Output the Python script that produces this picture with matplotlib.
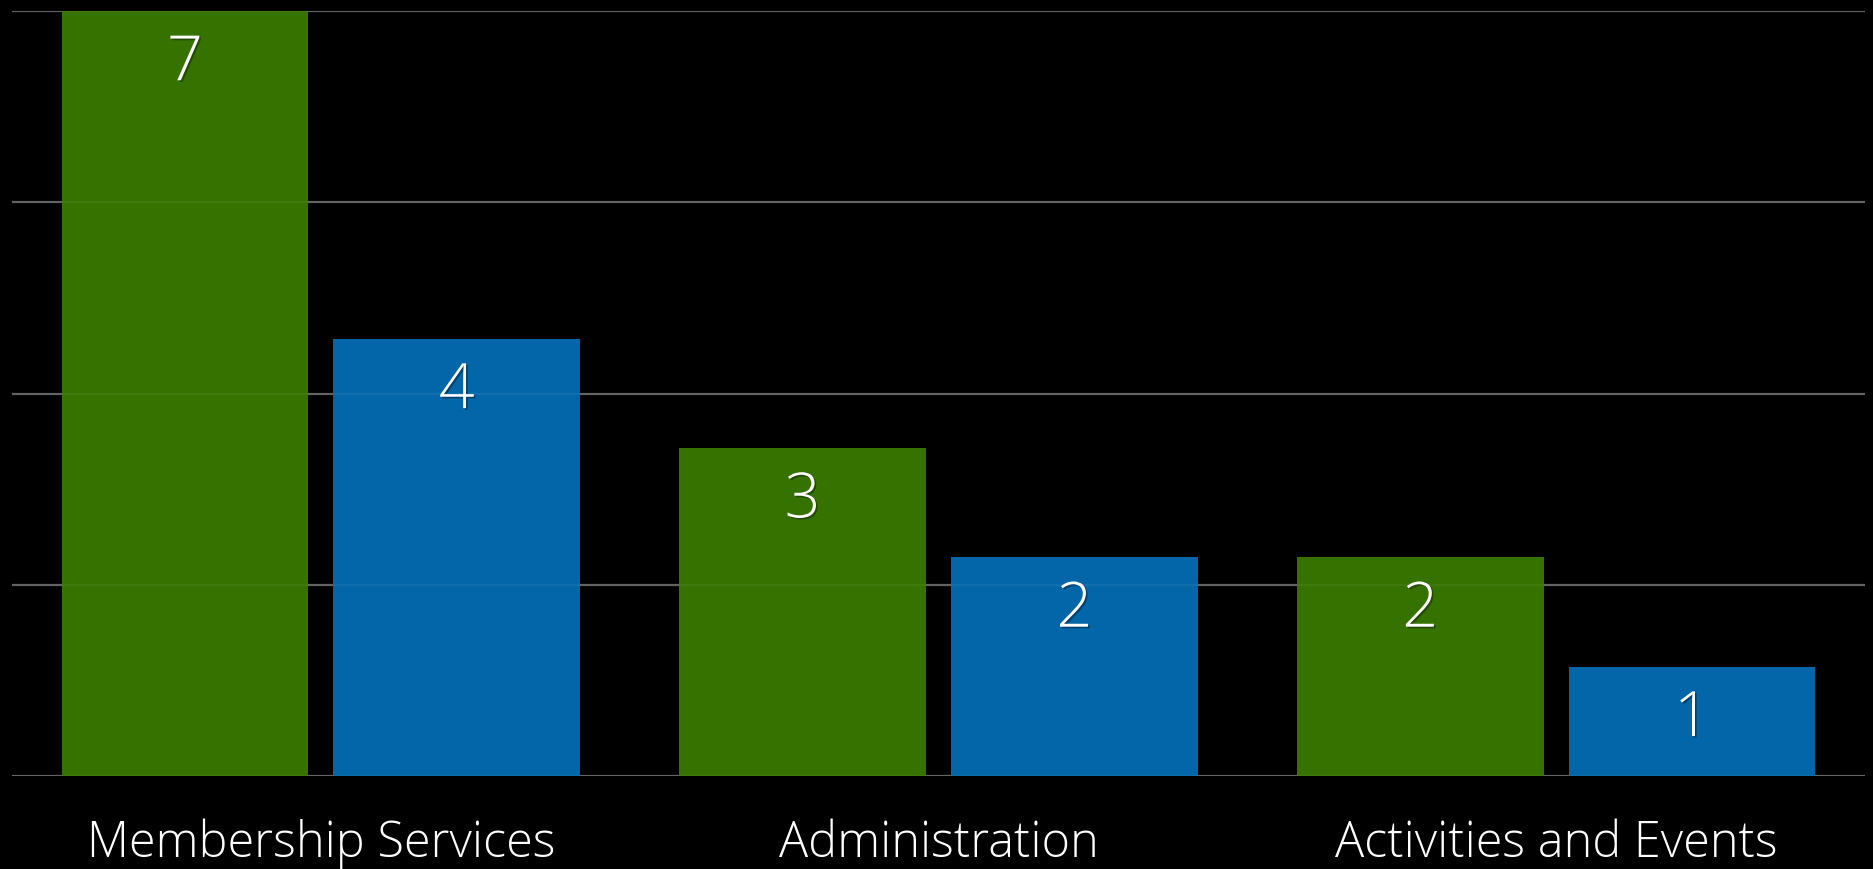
import matplotlib
matplotlib.use("Agg")
import matplotlib.pyplot as plt
import matplotlib.patheffects as pe
import numpy as np

categories = ["Membership Services", "Administration", "Activities and Events"]
series_a = [7, 3, 2]   # green
series_b = [4, 2, 1]   # blue
grid_ticks = [0, 1.75, 3.5, 5.25, 7]

green = "#357200"
blue = "#0366A8"

plt.rcParams['font.family'] = ['Open Sans', 'DejaVu Sans']

fig = plt.figure(figsize=(18.74, 8.7), dpi=100, facecolor="black")
ax = fig.add_axes([12/1874, 1 - 777/870, 1853/1874, 765/870])
ax.set_facecolor("black")

x = np.arange(len(categories))
w = 0.399
off = 0.22

for yv in grid_ticks:
    ax.axhline(yv, color="#5a5a5a", lw=1.6, zorder=1)

b1 = ax.bar(x - off, series_a, width=w, color=green, zorder=2)
b2 = ax.bar(x + off, series_b, width=w, color=blue, zorder=2)

for yv in grid_ticks:
    ax.axhline(yv, color="white", alpha=0.06, lw=1.6, zorder=3)

shadow = [pe.withSimplePatchShadow(offset=(1.2, -1.2), shadow_rgbFace="black", alpha=0.35)]
for bars, vals in ((b1, series_a), (b2, series_b)):
    for rect, v in zip(bars, vals):
        ax.annotate(str(v), (rect.get_x() + rect.get_width() / 2, v),
                    xytext=(0, -38), textcoords="offset points",
                    ha="center", va="center", color="white", fontsize=45,
                    fontweight="light", zorder=4, path_effects=shadow)

ax.set_xlim(-0.5, 2.5)
ax.set_ylim(0, 7)
ax.set_xticks(x)
ax.set_xticklabels(categories, color="white", fontsize=35, fontweight="light")
ax.tick_params(axis="x", length=0, pad=30)
ax.set_yticks([])
for s in ax.spines.values():
    s.set_visible(False)

fig.savefig("out.png", dpi=100, facecolor="black")
